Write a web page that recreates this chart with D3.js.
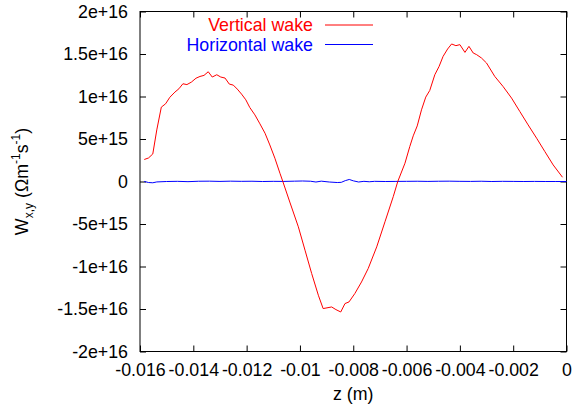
<!DOCTYPE html>
<html>
<head>
<meta charset="utf-8">
<script src="https://cdn.jsdelivr.net/npm/d3@7/dist/d3.min.js"></script>
<style>
html,body{margin:0;padding:0;background:#fff;}
svg{display:block;}
text{font-family:"Liberation Sans",Arial,sans-serif;}
</style>
</head>
<body>
<svg id="chart" width="572" height="413"></svg>
<script>
// ---- data ----
const verticalZ = [-0.01584,-0.01568,-0.01552,-0.01537,-0.01520,-0.01504,-0.01488,-0.01469,-0.01454,-0.01439,-0.01424,-0.01407,-0.01390,-0.01375,-0.01360,-0.01344,-0.01329,-0.01312,-0.01297,-0.01281,-0.01265,-0.01250,-0.01235,-0.01219,-0.01203,-0.01188,-0.01169,-0.01150,-0.01131,-0.01113,-0.01094,-0.01075,-0.01064,-0.01038,-0.01006,-0.00981,-0.00956,-0.00931,-0.00913,-0.00881,-0.00865,-0.00847,-0.00831,-0.00816,-0.00794,-0.00769,-0.00744,-0.00712,-0.00681,-0.00650,-0.00633,-0.00606,-0.00588,-0.00575,-0.00560,-0.00544,-0.00528,-0.00513,-0.00494,-0.00478,-0.00463,-0.00446,-0.00431,-0.00415,-0.00400,-0.00381,-0.00366,-0.00350,-0.00337,-0.00319,-0.00300,-0.00269,-0.00238,-0.00206,-0.00175,-0.00144,-0.00112,-0.00081,-0.00050,-0.00015];
const verticalW = [2.59e15,2.77e15,3.24e15,6.07e15,8.75e15,9.14e15,9.91e15,10.52e15,10.91e15,11.50e15,11.40e15,11.70e15,12.15e15,12.36e15,12.48e15,12.91e15,12.29e15,12.56e15,12.29e15,12.17e15,11.46e15,11.34e15,10.87e15,10.28e15,9.61e15,8.70e15,7.84e15,6.78e15,5.68e15,4.30e15,2.74e15,0.97e15,-0.02e15,-2.42e15,-5.33e15,-8.08e15,-10.82e15,-13.38e15,-14.95e15,-14.76e15,-15.07e15,-15.35e15,-14.36e15,-14.17e15,-13.18e15,-11.82e15,-10.24e15,-7.69e15,-4.74e15,-1.79e15,0,2.15e15,4.10e15,5.37e15,6.54e15,8.43e15,9.93e15,10.71e15,12.56e15,13.54e15,14.72e15,15.59e15,16.18e15,15.98e15,16.10e15,15.19e15,15.90e15,15.12e15,14.92e15,14.53e15,13.94e15,12.36e15,11.18e15,9.81e15,8.23e15,6.66e15,5.09e15,3.51e15,1.95e15,0.50e15];

const horizontalZ = [-0.01584,-0.01568,-0.01552,-0.01537,-0.01500,-0.01460,-0.01420,-0.01380,-0.01340,-0.01300,-0.01260,-0.01220,-0.01180,-0.01140,-0.01100,-0.01060,-0.01020,-0.00990,-0.00960,-0.00940,-0.00920,-0.00890,-0.00860,-0.00845,-0.00830,-0.00815,-0.00800,-0.00780,-0.00760,-0.00740,-0.00720,-0.00680,-0.00640,-0.00600,-0.00560,-0.00520,-0.00480,-0.00440,-0.00400,-0.00360,-0.00320,-0.00280,-0.00240,-0.00200,-0.00160,-0.00120,-0.00080,-0.00040,0];
const horizontalW = [0.1e14,-1.2e14,-1.5e14,-0.5e14,0,0.2e14,-0.2e14,0.3e14,0.4e14,0.1e14,0.4e14,0.2e14,0.3e14,0,0.2e14,0.1e14,0.4e14,0.6e14,0.3e14,-0.6e14,0.4e14,-0.6e14,-1.2e14,-1.0e14,1.0e14,2.4e14,0.8e14,-0.6e14,0.2e14,-0.3e14,0.2e14,0,0.1e14,0.2e14,0.3e14,0.1e14,0.3e14,0.4e14,0.2e14,0.1e14,0.3e14,0,0.2e14,0.1e14,0,0.1e14,0,0,0];

const xTickValues = [-0.016,-0.014,-0.012,-0.01,-0.008,-0.006,-0.004,-0.002,0];
const xTickLabels = ["-0.016","-0.014","-0.012","-0.01","-0.008","-0.006","-0.004","-0.002","0"];
const yTickValues = [-2e16,-1.5e16,-1e16,-5e15,0,5e15,1e16,1.5e16,2e16];
const yTickLabels = ["-2e+16","-1.5e+16","-1e+16","-5e+15","0","5e+15","1e+16","1.5e+16","2e+16"];
const seriesNames = ["Vertical wake","Horizontal wake"];
const seriesColors = ["#ff0000","#0000ff"];

// ---- layout ----
const L = 140, R = 566.5, T = 11.5, B = 351.5;
const fs = 17.8;
const svg = d3.select("#chart");
const x = d3.scaleLinear().domain([-0.016,0]).range([L,R]);
const y = d3.scaleLinear().domain([-2e16,2e16]).range([B,T]);

const tickLen = 6;
function styleAxis(g){
  g.select(".domain").remove();
  g.selectAll(".tick line").attr("stroke","#000").attr("stroke-width",1);
  g.selectAll(".tick text").attr("font-size",fs).attr("fill","#000")
   .attr("font-family","Liberation Sans, Arial, sans-serif");
}
const xAxisB = d3.axisBottom(x).tickValues(xTickValues).tickSizeInner(-tickLen).tickSizeOuter(0)
  .tickPadding(12).tickFormat((d,i)=>xTickLabels[i]);
svg.append("g").attr("transform",`translate(0,${B})`).call(xAxisB).call(styleAxis)
  .selectAll(".tick text").attr("dy","0.71em");
const xAxisT = d3.axisTop(x).tickValues(xTickValues).tickSizeInner(-tickLen).tickSizeOuter(0).tickFormat("");
svg.append("g").attr("transform",`translate(0,${T})`).call(xAxisT).call(styleAxis);
const yAxisL = d3.axisLeft(y).tickValues(yTickValues).tickSizeInner(-tickLen).tickSizeOuter(0)
  .tickPadding(12).tickFormat((d,i)=>yTickLabels[i]);
svg.append("g").attr("transform",`translate(${L},0)`).call(yAxisL).call(styleAxis);
const yAxisR = d3.axisRight(y).tickValues(yTickValues).tickSizeInner(-tickLen).tickSizeOuter(0).tickFormat("");
svg.append("g").attr("transform",`translate(${R},0)`).call(yAxisR).call(styleAxis);

svg.append("rect").attr("x",L).attr("y",T).attr("width",R-L).attr("height",B-T)
  .attr("fill","none").attr("stroke","#000").attr("stroke-width",1);

// series
const line = d3.line().x(d=>x(d[0])).y(d=>y(d[1]));
const hData = horizontalZ.map((z,i)=>[z,horizontalW[i]]);
const vData = verticalZ.map((z,i)=>[z,verticalW[i]]);
svg.append("path").datum(hData).attr("d",line).attr("fill","none")
  .attr("stroke",seriesColors[1]).attr("stroke-width",1);
svg.append("path").datum(vData).attr("d",line).attr("fill","none")
  .attr("stroke",seriesColors[0]).attr("stroke-width",1);

// legend
const legY = [25,44.5];
seriesNames.forEach((n,i)=>{
  svg.append("text").attr("x",313).attr("y",legY[i]).attr("dy","0.35em")
    .attr("text-anchor","end").attr("font-size",fs).attr("fill",seriesColors[i]).text(n);
  svg.append("line").attr("x1",325).attr("x2",373).attr("y1",legY[i]).attr("y2",legY[i])
    .attr("stroke",seriesColors[i]).attr("stroke-width",1);
});

// axis titles
svg.append("text").attr("x",(L+R)/2).attr("y",400).attr("text-anchor","middle")
  .attr("font-size",fs).attr("fill","#000").text("z (m)");

const yl = svg.append("text").attr("transform",`translate(28,${(T+B)/2}) rotate(-90)`)
  .attr("text-anchor","middle").attr("font-size",fs).attr("fill","#000");
yl.append("tspan").text("W");
yl.append("tspan").attr("font-size",12).attr("dy",5).text("x,y");
yl.append("tspan").attr("dy",-5).text(" (Ωm");
yl.append("tspan").attr("font-size",12).attr("dy",-8).text("-1");
yl.append("tspan").attr("dy",8).text("s");
yl.append("tspan").attr("font-size",12).attr("dy",-8).text("-1");
yl.append("tspan").attr("dy",8).text(")");
</script>
</body>
</html>
